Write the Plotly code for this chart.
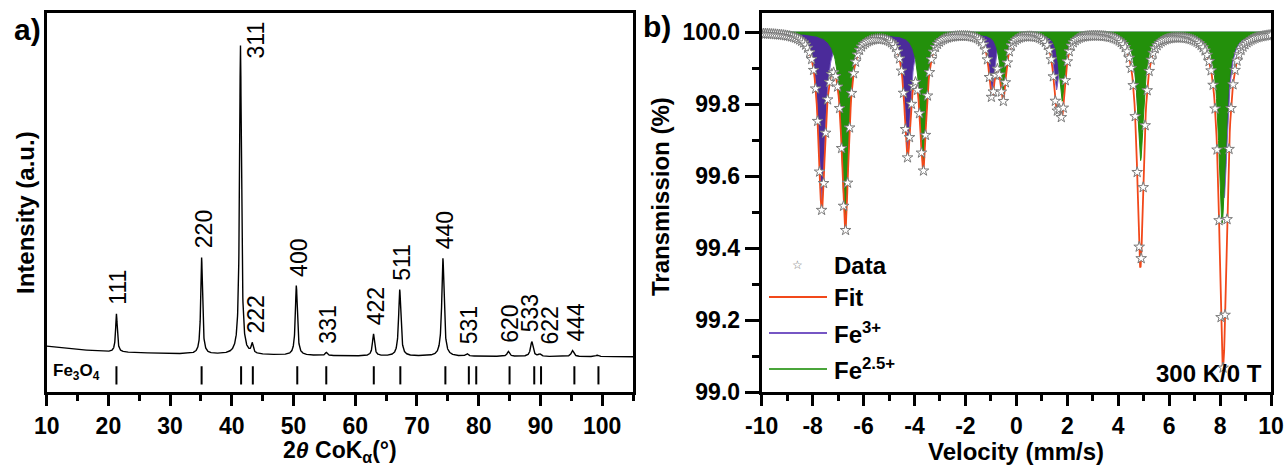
import numpy as np
import plotly.graph_objects as go

# ---------------- a) XRD pattern of Fe3O4 (Co K-alpha) ----------------
hkl_labels = ["111", "220", "311", "222", "400", "331", "422", "511",
              "440", "531", "620", "533", "622", "444", ""]
peak_2theta = [21.3, 35.1, 41.4, 43.3, 50.45, 55.3, 62.95, 67.2,
               74.2, 78.1, 84.8, 88.6, 89.9, 95.2, 99.2]
peak_height = [10.1, 25.4, 81.5, 2.5, 18.4, 0.8, 5.8, 17.5,
               25.8, 0.7, 1.3, 3.9, 0.6, 1.6, 0.4]
peak_hwhm = [0.16, 0.17, 0.18, 0.18, 0.19, 0.20, 0.20, 0.21,
             0.22, 0.22, 0.23, 0.24, 0.24, 0.25, 0.25]
background_2theta = [10, 15, 20, 30, 45, 60, 80, 105]
background_level = [12.1, 11.2, 10.6, 10.1, 9.8, 9.5, 9.4, 9.3]
reference_2theta = [21.3, 35.1, 41.5, 43.4, 50.6, 55.3, 63.0, 67.3,
                    74.6, 78.4, 79.6, 85.0, 89.0, 90.1, 95.5, 99.4]
two_theta_ticks = [10, 20, 30, 40, 50, 60, 70, 80, 90, 100]

# ---------------- b) Moessbauer spectrum, 300 K / 0 T ----------------
fe3_velocity = [-7.64, -4.27, -0.96, 1.57, 4.86, 8.16]
fe3_depth = [0.48, 0.325, 0.165, 0.16, 0.30, 0.46]
fe3_hwhm = [0.16, 0.15, 0.14, 0.14, 0.15, 0.16]
fe25_velocity = [-6.72, -3.66, -0.52, 1.80, 4.88, 8.08]
fe25_depth = [0.54, 0.368, 0.175, 0.19, 0.355, 0.53]
fe25_hwhm = [0.16, 0.15, 0.14, 0.14, 0.15, 0.16]
n_channels = 256
velocity_ticks = [-10, -8, -6, -4, -2, 0, 2, 4, 6, 8, 10]
transmission_ticks = [99.0, 99.2, 99.4, 99.6, 99.8, 100.0]

W, H = 1286, 466
FONT = "Liberation Sans, Arial, sans-serif"
C_FE3 = "#4b2b9a"
C_FE25 = "#23900b"
C_FIT = "#f2481a"


def lorentz(x, x0, h, g):
    return h * g ** 2 / ((x - x0) ** 2 + g ** 2)


# XRD profile: background plus a Lorentzian for each reflection
tt = np.arange(10.0, 105.0001, 0.02)
xrd = np.interp(tt, background_2theta, background_level)
for p, h, g in zip(peak_2theta, peak_height, peak_hwhm):
    xrd = xrd + lorentz(tt, p, h, g)

# Moessbauer sub-spectra and total fit
v = np.linspace(-10, 10, 1001)
absorb_fe3 = sum(lorentz(v, p, d, g) for p, d, g in zip(fe3_velocity, fe3_depth, fe3_hwhm))
absorb_fe25 = sum(lorentz(v, p, d, g) for p, d, g in zip(fe25_velocity, fe25_depth, fe25_hwhm))
t_fe3 = 100 - absorb_fe3
t_fe25 = 100 - absorb_fe25
t_fit = 100 - absorb_fe3 - absorb_fe25
v_ch = np.linspace(-10, 10, n_channels)
t_ch = np.interp(v_ch, v, t_fit)


def px(x):
    return x / W


def py(y):
    return 1 - y / H


fig = go.Figure()

# XRD curve
fig.add_trace(go.Scatter(x=tt, y=xrd, mode="lines", line=dict(color="black", width=1.4),
                         xaxis="x", yaxis="y", showlegend=False, hoverinfo="skip"))
# reference bars
rx, ry = [], []
for r in reference_2theta:
    rx += [r, r, None]
    ry += [2.0, 6.8, None]
fig.add_trace(go.Scatter(x=rx, y=ry, mode="lines", line=dict(color="black", width=2),
                         xaxis="x", yaxis="y", showlegend=False, hoverinfo="skip"))

# Moessbauer fills
vv = np.concatenate([v, v[::-1]])
fig.add_trace(go.Scatter(x=vv, y=np.concatenate([t_fe3, np.full(v.size, 100.0)]),
                         fill="toself", fillcolor=C_FE3, mode="lines",
                         line=dict(color="#7d63c8", width=1),
                         xaxis="x2", yaxis="y2", showlegend=False, hoverinfo="skip"))
fig.add_trace(go.Scatter(x=vv, y=np.concatenate([t_fe25, np.full(v.size, 100.0)]),
                         fill="toself", fillcolor=C_FE25, mode="lines",
                         line=dict(color=C_FE25, width=1),
                         xaxis="x2", yaxis="y2", showlegend=False, hoverinfo="skip"))
fig.add_trace(go.Scatter(x=v, y=t_fit, mode="lines", line=dict(color=C_FIT, width=1.8),
                         xaxis="x2", yaxis="y2", showlegend=False, hoverinfo="skip"))
fig.add_trace(go.Scatter(x=v_ch, y=t_ch, mode="markers",
                         marker=dict(symbol="star", size=8, color="white",
                                     line=dict(color="#7a7a7a", width=1)),
                         xaxis="x2", yaxis="y2", showlegend=False, hoverinfo="skip"))

tickfont = dict(family=FONT, size=23, color="black", weight="bold")
common = dict(showline=True, linewidth=3, linecolor="black", mirror=True,
              showgrid=False, zeroline=False, automargin=False)


def note(x, y, text, size=24, bold=True, angle=0, xa="center", ya="middle"):
    f = dict(family=FONT, size=size, color="black")
    if bold:
        f["weight"] = "bold"
    return dict(x=px(x), y=py(y), xref="paper", yref="paper", text=text, textangle=angle,
                showarrow=False, xanchor=xa, yanchor=ya, font=f)


annotations = []
# hkl labels above each reflection
shift_x = {"311": 16, "222": 4, "622": 10, "444": 3, "533": -2}
shift_y = {"311": -15}
for lab, p in zip(hkl_labels, peak_2theta):
    if not lab:
        continue
    top = float(np.interp(p, tt, xrd))
    annotations.append(dict(x=p, y=top, xref="x", yref="y", text=lab, textangle=-90,
                            showarrow=False, xanchor="center", yanchor="bottom",
                            xshift=shift_x.get(lab, 2), yshift=shift_y.get(lab, 7),
                            font=dict(family=FONT, size=23, color="black")))

annotations += [
    dict(x=10.65, y=5.2, xref="x", yref="y", text="Fe<sub>3</sub>O<sub>4</sub>",
         showarrow=False, xanchor="left", yanchor="middle",
         font=dict(family=FONT, size=17, color="black", weight="bold")),
    note(27, 29, "a)", size=30),
    note(657, 27, "b)", size=30),
    note(25, 213, "Intensity (a.u.)", angle=-90),
    note(340, 451, "2<i>θ</i> CoK<sub>α</sub>(°)", size=23),
    note(660, 197, "Transmission (%)", angle=-90),
    note(1016, 451, "Velocity (mm/s)"),
    note(1264, 373, "300 K/0 T", xa="right"),
]

# legend of panel b
legend_items = [("Data", None, 265), ("Fit", C_FIT, 297),
                ("Fe<sup>3+</sup>", "#7656c4", 333), ("Fe<sup>2.5+</sup>", "#4aa53a", 369)]
shapes = []
for text, col, yy in legend_items:
    if col is None:
        annotations.append(dict(x=px(797), y=py(yy), xref="paper", yref="paper", text="☆",
                                showarrow=False, xanchor="center", yanchor="middle",
                                font=dict(family="DejaVu Sans", size=12, color="#777777")))
    else:
        shapes.append(dict(type="line", xref="paper", yref="paper", x0=px(769), x1=px(827),
                           y0=py(yy), y1=py(yy), line=dict(color=col, width=2)))
    annotations.append(note(832, yy, text, xa="left"))

fig.update_layout(
    template="none",
    width=W, height=H, margin=dict(l=0, r=0, t=0, b=0, autoexpand=False),
    paper_bgcolor="white", plot_bgcolor="white", showlegend=False,
    xaxis=dict(domain=[px(46.7), px(633)], range=[10, 105], tickvals=two_theta_ticks,
               ticks="outside", ticklen=11, tickwidth=3, tickcolor="black", tickfont=tickfont,
               minor=dict(dtick=5, tick0=10, ticks="outside", ticklen=6, tickwidth=3,
                          tickcolor="black"),
               anchor="y", **common),
    yaxis=dict(domain=[py(392), py(13)], range=[0, 100], showticklabels=False, ticks="",
               anchor="x", **common),
    xaxis2=dict(domain=[px(761.7), px(1271)], range=[-10, 10], tickvals=velocity_ticks,
                ticktext=[str(t) for t in velocity_ticks],
                ticks="outside", ticklen=11, tickwidth=3, tickcolor="black", tickfont=tickfont,
                minor=dict(dtick=1, tick0=-10, ticks="outside", ticklen=6, tickwidth=3,
                           tickcolor="black"),
                anchor="y2", **common),
    yaxis2=dict(domain=[py(392), py(13)], range=[99.0, 100.053],
                tickvals=transmission_ticks, ticktext=[f"{t:.1f}" for t in transmission_ticks],
                ticks="outside", ticklen=14, tickwidth=3, tickcolor="black", tickfont=tickfont,
                minor=dict(dtick=0.1, tick0=99.0, ticks="outside", ticklen=7, tickwidth=3,
                           tickcolor="black"),
                anchor="x2", **common),
    annotations=annotations, shapes=shapes,
)

fig.write_html("out.html")
